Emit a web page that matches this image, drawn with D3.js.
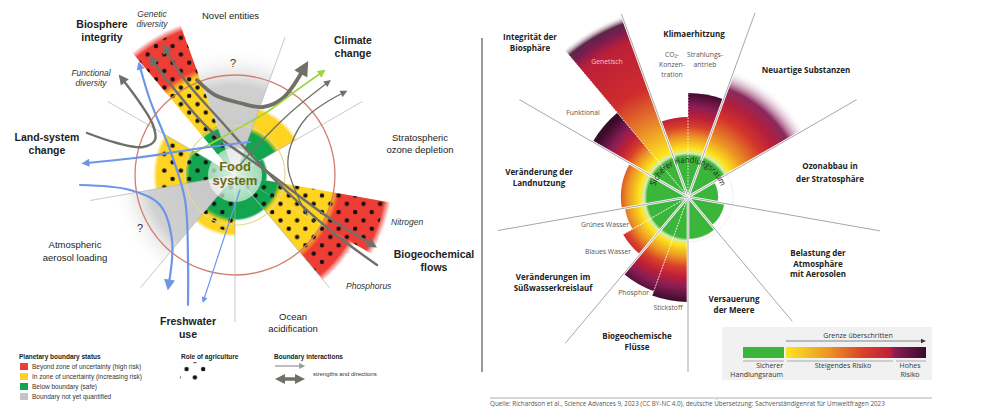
<!DOCTYPE html>
<html>
<head>
<meta charset="utf-8">
<script src="https://d3js.org/d3.v7.min.js"></script>
<style>
  body { margin: 0; background: #fff; }
  svg { display: block; }
</style>
</head>
<body>
<div id="chart"></div>
<script>
// ---------- data: left panel (food system and planetary boundaries) ----------
// angles in degrees clockwise from north, radii in multiples of the planetary boundary
const leftSectors = ["Novel entities", "Climate change", "Stratospheric ozone depletion", "Nitrogen", "Phosphorus",
  "Ocean acidification", "Freshwater use", "Atmospheric aerosol loading", "Land-system change", "Genetic diversity"];
const leftFrom = [-20, 20, 60, 100, 120, 140, 180, 220, 260, -40];
const leftTo = [20, 60, 100, 120, 140, 180, 220, 260, 300, -20];
const leftSafe = [0, 0.47, 0.33, 0.45, 0.45, 0.46, 0.45, 0, 0.48, 0.5];
const leftUncertain = [0, 0.72, 0, 1.02, 1.02, 0, 0.62, 0, 0.82, 1.08];
const leftHighRisk = [0, 0, 0, 1.58, 1.38, 0, 0, 0, 0, 1.6];
const leftUnknown = [1.28, 0, 0, 0, 0, 0, 0, 1.25, 0, 0];
const leftAgriculture = [0, 0, 0, 1, 1, 0, 1, 0, 1, 1];
const leftDividers = [-60, 20, 60, 140, 180, 220, 260];
const leftDividerLength = 1.47;

// interactions between boundaries (x, y in boundary units from the centre)
const flows = [
  { kind: "major", heads: "end", pts: [[-0.38, -0.95], [-0.2, -0.8], [0.05, -0.72], [0.28, -0.68], [0.48, -0.77], [0.68, -1.05]] },
  { kind: "gray", heads: "end", pts: [[-1.48, -0.42], [-1.18, -0.32], [-0.92, -0.28], [-0.8, -0.35], [-0.82, -0.5], [-0.95, -0.72], [-1.12, -0.95]] },
  { kind: "gray", heads: "both", pts: [[-0.82, -1.14], [-0.6, -0.85], [-0.25, -0.45], [0.3, -0.05], [0.9, 0.4], [1.36, 0.69]] },
  { kind: "gray", heads: "start", pts: [[-0.69, -1.25], [-0.5, -0.95], [-0.15, -0.55], [0.4, 0.05], [0.95, 0.55], [1.42, 0.9]] },
  { kind: "thin", heads: "end", pts: [[0.05, -0.1], [0.18, -0.25], [0.55, -0.62], [0.92, -0.92]] },
  { kind: "thin", heads: "end", pts: [[0.72, 0.4], [0.6, 0.15], [0.53, -0.08], [0.56, -0.3], [0.72, -0.58], [0.95, -0.75], [1.08, -0.82]] },
  { kind: "green", heads: "end", pts: [[-0.45, -0.2], [-0.05, -0.42], [0.35, -0.65], [0.62, -0.85], [0.86, -1.02]] },
  { kind: "blue", heads: "end", pts: [[0.15, -0.33], [-0.4, -0.26], [-1.0, -0.17], [-1.48, -0.12]] },
  { kind: "blue", heads: "end", pts: [[-0.47, 1.3], [-0.47, 0.85], [-0.5, 0.25], [-0.65, -0.25], [-0.85, -0.75], [-0.95, -1.08]] },
  { kind: "blueBig", heads: "end", pts: [[-1.55, 0.1], [-1.05, 0.15], [-0.75, 0.3], [-0.63, 0.65], [-0.66, 1.08]] },
  { kind: "blueThin", heads: "end", pts: [[0.05, 0.15], [-0.15, 0.75], [-0.31, 1.24]] }
];

// ---------- data: right panel (Richardson et al. 2023, German labels) ----------
const rightSectors = ["Genetisch", "Funktional", "CO₂-Konzentration", "Strahlungsantrieb", "Neuartige Substanzen",
  "Ozonabbau", "Aerosole", "Versauerung", "Stickstoff", "Phosphor", "Blaues Wasser", "Grünes Wasser", "Landnutzung"];
const rightFrom = [-40, -60, -20, 0, 20, 60, 100, 140, 180, 200, 220, 240, 260];
const rightTo = [-20, -40, 0, 20, 60, 100, 140, 180, 200, 220, 240, 260, 300];
const rightValue = [4.5, 2.56, 1.86, 2.42, 3.14, 0.7, 0.86, 0.98, 2.44, 2.33, 1.74, 1.49, 1.56];
const rightRamp = ["genetic", "risk", "risk", "risk", "novel", "risk", "risk", "risk", "risk", "risk", "risk", "risk", "risk"];
const rightMainLines = [-60, -20, 20, 60, 100, 140, 180, 220, 260];
const rightMainLength = [4.53, 4.53, 4.56, 4.53, 4.53, 3.77, 4.07, 4.44, 4.49];
const rightSubLines = [-40, 0, 200, 240];

// colour ramps: radius (boundary units) -> colour
const ramps = {
  risk: {
    stops: [0, 0.95, 1.02, 1.12, 1.4, 1.63, 1.86, 2.1, 2.45],
    colors: ["#3cb63a", "#3cb63a", "#dcefae", "#fde51d", "#ec9624", "#d9402b", "#bd1f37", "#8b1d55", "#3a0b2b"],
    opacity: [1, 1, 1, 1, 1, 1, 1, 1, 1]
  },
  genetic: {
    stops: [0, 0.95, 1.02, 1.12, 1.9, 2.7, 3.85, 4.12, 4.3, 4.5],
    colors: ["#3cb63a", "#3cb63a", "#dcefae", "#fde51d", "#e8842a", "#cf2c2e", "#bb1f38", "#7d1c50", "#4a0f35", "#ffffff"],
    opacity: [1, 1, 1, 1, 1, 1, 1, 1, 0.9, 0]
  },
  novel: {
    stops: [0, 0.95, 1.02, 1.12, 1.45, 1.98, 2.33, 2.67, 3.14],
    colors: ["#3cb63a", "#3cb63a", "#dcefae", "#fde51d", "#ec9624", "#d4342c", "#b41f3b", "#851d55", "#ffffff"],
    opacity: [1, 1, 1, 1, 1, 1, 1, 0.95, 0]
  }
};

const fontL = "'Liberation Sans', Arial, sans-serif";
const fontR = "'Open Sans', 'Noto Sans', sans-serif";
const rad = d => d * Math.PI / 180;

const svg = d3.select("#chart").append("svg").attr("width", 1000).attr("height", 409);
const defs = svg.append("defs");

// dot pattern = role of agriculture
const dots = defs.append("pattern").attr("id", "agri")
  .attr("patternUnits", "userSpaceOnUse").attr("width", 16.6).attr("height", 16.6);
dots.append("circle").attr("cx", 4).attr("cy", 4).attr("r", 2.2).attr("fill", "#111");
dots.append("circle").attr("cx", 12.3).attr("cy", 12.3).attr("r", 2.2).attr("fill", "#111");

// arrow heads
function marker(id, color, w, h) {
  defs.append("marker").attr("id", id)
    .attr("viewBox", "0 0 10 10").attr("refX", 3).attr("refY", 5)
    .attr("markerUnits", "userSpaceOnUse")
    .attr("markerWidth", w).attr("markerHeight", h)
    .attr("orient", "auto-start-reverse")
    .append("path").attr("d", "M0,0L10,5L0,10Z").attr("fill", color);
}
const arrowStyle = {
  major: { color: "#707068", width: 3.8, w: 16, h: 15 },
  gray: { color: "#707068", width: 2.4, w: 11, h: 10 },
  thin: { color: "#707068", width: 1.3, w: 8, h: 7 },
  green: { color: "#9ed43c", width: 1.6, w: 9, h: 8 },
  blue: { color: "#6f96e6", width: 2.2, w: 10, h: 8 },
  blueBig: { color: "#6f96e6", width: 2.2, w: 12, h: 11 },
  blueThin: { color: "#6f96e6", width: 1.2, w: 8, h: 6 }
};
Object.entries(arrowStyle).forEach(([k, s]) => marker("h-" + k, s.color, s.w, s.h));
marker("h-legend", "#9a9a9a", 7, 6);
marker("h-legendBig", "#707068", 10, 10);

// =====================================================================
// LEFT PANEL
// =====================================================================
const LC = { x: 235, y: 175 };
const lr = d3.scaleLinear().domain([0, 1]).range([0, 100]);
const lx = d3.scaleLinear().domain([0, 1]).range([LC.x, LC.x + 100]);
const ly = d3.scaleLinear().domain([0, 1]).range([LC.y, LC.y + 100]);
const left = svg.append("g");
const lg = left.append("g").attr("transform", `translate(${LC.x},${LC.y})`);

const G = "#12a54e", Y = "#fed321", R = "#ee3d34";

function leftStops(i) {
  if (leftUnknown[i]) {
    const u = leftUnknown[i];
    return [[0, "#c4c4c4", 1], [u * 0.7, "#d0d0d0", 1], [u, "#ffffff", 0]];
  }
  const g = leftSafe[i], y = leftUncertain[i], h = leftHighRisk[i];
  const s = [[0, G, 1], [g - 0.025, G, 1]];
  if (y) {
    s.push([g + 0.025, Y, 1]);
    if (h) s.push([y - 0.04, Y, 1], [y + 0.04, R, 1], [h - 0.07, R, 1], [h, R, 0]);
    else s.push([y - 0.04, Y, 1], [y, Y, 0]);
  } else {
    s.push([g, G, 0]);
  }
  return s;
}

leftSectors.forEach((name, i) => {
  const stops = leftStops(i);
  const outer = stops[stops.length - 1][0];
  const grad = defs.append("radialGradient").attr("id", "lgrad" + i)
    .attr("gradientUnits", "userSpaceOnUse").attr("cx", 0).attr("cy", 0).attr("r", lr(outer));
  stops.forEach(s => grad.append("stop").attr("offset", s[0] / outer)
    .attr("stop-color", s[1]).attr("stop-opacity", s[2]));
  const arc = d3.arc().innerRadius(0).outerRadius(lr(outer))
    .startAngle(rad(leftFrom[i])).endAngle(rad(leftTo[i]));
  lg.append("path").attr("d", arc()).attr("fill", `url(#lgrad${i})`);
  if (leftAgriculture[i]) {
    const dotArc = d3.arc().innerRadius(0).outerRadius(lr(outer - 0.06))
      .startAngle(rad(leftFrom[i])).endAngle(rad(leftTo[i]));
    lg.append("path").attr("d", dotArc()).attr("fill", "url(#agri)");
  }
});

// boundary circles
lg.append("circle").attr("r", lr(0.5)).attr("fill", "none").attr("stroke", "#e2dc8c").attr("stroke-width", 1.2);
lg.append("circle").attr("r", lr(1)).attr("fill", "none").attr("stroke", "#d27e6e").attr("stroke-width", 1.3);

// sector dividers
leftDividers.forEach(a => {
  lg.append("line")
    .attr("x1", 0).attr("y1", 0)
    .attr("x2", lr(leftDividerLength) * Math.sin(rad(a)))
    .attr("y2", -lr(leftDividerLength) * Math.cos(rad(a)))
    .attr("stroke", "#a9b3bd").attr("stroke-width", 0.7);
});

// food system hub
const hub = defs.append("radialGradient").attr("id", "hub");
hub.append("stop").attr("offset", 0).attr("stop-color", "#fff").attr("stop-opacity", 0.85);
hub.append("stop").attr("offset", 1).attr("stop-color", "#fff").attr("stop-opacity", 0.6);
lg.append("circle").attr("r", 27).attr("fill", "url(#hub)");
lg.append("text").attr("y", -4).attr("text-anchor", "middle").attr("font-family", fontL)
  .attr("font-weight", "bold").attr("font-size", 13).attr("fill", "#6e6a14").text("Food");
lg.append("text").attr("y", 10).attr("text-anchor", "middle").attr("font-family", fontL)
  .attr("font-weight", "bold").attr("font-size", 13).attr("fill", "#6e6a14").text("system");

// interaction arrows
const flowLine = d3.line().x(d => lx(d[0])).y(d => ly(d[1])).curve(d3.curveCatmullRom.alpha(0.5));
flows.forEach(f => {
  const s = arrowStyle[f.kind];
  const p = left.append("path").attr("d", flowLine(f.pts)).attr("fill", "none")
    .attr("stroke", s.color).attr("stroke-width", s.width).attr("stroke-linecap", "round");
  if (f.heads === "end" || f.heads === "both") p.attr("marker-end", `url(#h-${f.kind})`);
  if (f.heads === "start" || f.heads === "both") p.attr("marker-start", `url(#h-${f.kind})`);
});

// labels
function texts(g, x, y, lines, size, opts = {}) {
  lines.forEach((t, k) => {
    g.append("text").attr("x", x).attr("y", y + k * (opts.lh || size * 1.2))
      .attr("text-anchor", opts.anchor || "middle")
      .attr("font-family", opts.font || fontL)
      .attr("font-size", size)
      .attr("font-weight", opts.weight || "normal")
      .attr("font-style", opts.italic ? "italic" : "normal")
      .attr("fill", opts.fill || "#222")
      .text(t);
  });
}
const B = { weight: "bold", lh: 12.5 };
texts(left, 102, 28, ["Biosphere", "integrity"], 10.5, B);
texts(left, 152, 17, ["Genetic", "diversity"], 8.5, { italic: true, lh: 10, fill: "#333" });
texts(left, 202, 19, ["Novel entities"], 9.5, { anchor: "start", fill: "#222" });
texts(left, 91, 76, ["Functional", "diversity"], 8.5, { italic: true, lh: 10, fill: "#333" });
texts(left, 47, 141, ["Land-system", "change"], 10.5, B);
texts(left, 353, 44, ["Climate", "change"], 10.5, B);
texts(left, 420, 141, ["Stratospheric", "ozone depletion"], 9.5, { lh: 12 });
texts(left, 391, 225, ["Nitrogen"], 8.5, { anchor: "start", italic: true, fill: "#333" });
texts(left, 434, 258, ["Biogeochemical", "flows"], 10.5, B);
texts(left, 346, 289, ["Phosphorus"], 8.5, { anchor: "start", italic: true, fill: "#333" });
texts(left, 293, 320, ["Ocean", "acidification"], 9.5, { lh: 12 });
texts(left, 188, 325, ["Freshwater", "use"], 10.5, B);
texts(left, 75, 248, ["Atmospheric", "aerosol loading"], 9.5, { lh: 12.5 });
texts(left, 233, 67, ["?"], 11, { fill: "#333" });
texts(left, 140, 232, ["?"], 11, { fill: "#333" });

// legend (left)
const statusLabels = ["Beyond zone of uncertainty (high risk)", "In zone of uncertainty (increasing risk)",
  "Below boundary (safe)", "Boundary not yet quantified"];
const statusColors = [R, Y, G, "#c4c4c4"];
texts(left, 19, 359, ["Planetary boundary status"], 6.5, { anchor: "start", weight: "bold" });
statusLabels.forEach((t, k) => {
  left.append("rect").attr("x", 20).attr("y", 363 + k * 10).attr("width", 8).attr("height", 7).attr("fill", statusColors[k]);
  texts(left, 32, 369 + k * 10, [t], 6.5, { anchor: "start", fill: "#333" });
});
texts(left, 181, 359, ["Role of agriculture"], 6.5, { anchor: "start", weight: "bold" });
left.append("rect").attr("x", 180).attr("y", 362).attr("width", 26).attr("height", 18).attr("fill", "url(#agri)");
texts(left, 274, 359, ["Boundary interactions"], 6.5, { anchor: "start", weight: "bold" });
left.append("line").attr("x1", 275).attr("y1", 366).attr("x2", 301).attr("y2", 366)
  .attr("stroke", "#9a9a9a").attr("stroke-width", 1.3).attr("marker-end", "url(#h-legend)");
left.append("line").attr("x1", 282).attr("y1", 379).attr("x2", 298).attr("y2", 379)
  .attr("stroke", "#707068").attr("stroke-width", 3.5)
  .attr("marker-end", "url(#h-legendBig)").attr("marker-start", "url(#h-legendBig)");
texts(left, 313, 376, ["strengths and directions"], 6, { anchor: "start", fill: "#333" });

// =====================================================================
// RIGHT PANEL
// =====================================================================
const RC = { x: 688, y: 197 };
const rr = d3.scaleLinear().domain([0, 1]).range([0, 43]);
const right = svg.append("g");
const rg = right.append("g").attr("transform", `translate(${RC.x},${RC.y})`);

Object.entries(ramps).forEach(([key, ramp]) => {
  const maxR = ramp.stops[ramp.stops.length - 1];
  const grad = defs.append("radialGradient").attr("id", "ramp-" + key)
    .attr("gradientUnits", "userSpaceOnUse").attr("cx", 0).attr("cy", 0).attr("r", rr(maxR));
  ramp.stops.forEach((s, k) => grad.append("stop").attr("offset", s / maxR)
    .attr("stop-color", ramp.colors[k]).attr("stop-opacity", ramp.opacity[k]));
});

rightSectors.forEach((name, i) => {
  const arc = d3.arc().innerRadius(0).outerRadius(rr(rightValue[i]))
    .startAngle(rad(rightFrom[i])).endAngle(rad(rightTo[i]));
  rg.append("path").attr("d", arc()).attr("fill", `url(#ramp-${rightRamp[i]})`);
});

// sub-dividers (dotted white)
rightSubLines.forEach(a => {
  const i = rightFrom.indexOf(a);
  const len = Math.max(rightValue[i], rightValue[rightTo.indexOf(a)]);
  rg.append("line").attr("x1", 0).attr("y1", 0)
    .attr("x2", rr(len) * Math.sin(rad(a))).attr("y2", -rr(len) * Math.cos(rad(a)))
    .attr("stroke", "#fff").attr("stroke-width", 0.9).attr("stroke-dasharray", "1.5 1.5");
});

// main dividers: white gap with a thin grey rule
rightMainLines.forEach((a, k) => {
  const x2 = rr(rightMainLength[k]) * Math.sin(rad(a)), y2 = -rr(rightMainLength[k]) * Math.cos(rad(a));
  rg.append("line").attr("x1", 0).attr("y1", 0).attr("x2", x2).attr("y2", y2)
    .attr("stroke", "#fff").attr("stroke-width", 2.6);
  rg.append("line").attr("x1", 0).attr("y1", 0).attr("x2", x2).attr("y2", y2)
    .attr("stroke", "#6a6a6a").attr("stroke-width", 0.6);
});

// safe operating space boundary
rg.append("circle").attr("r", rr(1.05)).attr("fill", "none")
  .attr("stroke", "#cfcfcf").attr("stroke-width", 0.8).attr("stroke-dasharray", "1 1.5");
defs.append("path").attr("id", "safeArc")
  .attr("d", `M${-rr(0.8)},0 A${rr(0.8)},${rr(0.8)} 0 0 1 ${rr(0.8)},0`);
rg.append("text").attr("font-family", fontR).attr("font-size", 8.4).attr("fill", "#1f2a1a")
  .append("textPath").attr("href", "#safeArc").attr("startOffset", "50%").attr("text-anchor", "middle")
  .attr("textLength", 86).attr("lengthAdjust", "spacingAndGlyphs")
  .text("Sicherer Handlungsraum");

// labels (right)
const RB = { font: fontR, weight: 700, lh: 11, fill: "#222" };
const RS = { font: fontR, lh: 10, fill: "#555" };
texts(right, 530, 40, ["Integrität der", "Biosphäre"], 8, RB);
texts(right, 694, 37, ["Klimaerhitzung"], 8, RB);
texts(right, 672, 57, ["CO₂-", "Konzen-", "tration"], 6.8, RS);
texts(right, 705, 57, ["Strahlungs-", "antrieb"], 6.8, RS);
texts(right, 607, 64, ["Genetisch"], 6.8, { font: fontR, fill: "#f6c6c8" });
texts(right, 583, 115, ["Funktional"], 6.8, RS);
texts(right, 806, 73, ["Neuartige Substanzen"], 8, RB);
texts(right, 830, 169, ["Ozonabbau in", "der Stratosphäre"], 8, { ...RB, lh: 12.5 });
texts(right, 539, 175, ["Veränderung der", "Landnutzung"], 8, RB);
texts(right, 629, 227, ["Grünes Wasser"], 6.8, { ...RS, anchor: "end" });
texts(right, 631, 254, ["Blaues Wasser"], 6.8, { ...RS, anchor: "end" });
texts(right, 553, 280, ["Veränderungen im", "Süßwasserkreislauf"], 8, RB);
texts(right, 649, 295, ["Phosphor"], 6.8, { ...RS, anchor: "end" });
texts(right, 668, 310, ["Stickstoff"], 6.8, RS);
texts(right, 637, 339, ["Biogeochemische", "Flüsse"], 8, RB);
texts(right, 734, 302, ["Versauerung", "der Meere"], 8, RB);
texts(right, 818, 256, ["Belastung der", "Atmosphäre", "mit Aerosolen"], 8, { ...RB, lh: 10.7 });

// separator and footer
right.append("line").attr("x1", 482).attr("y1", 38).attr("x2", 482).attr("y2", 372)
  .attr("stroke", "#333").attr("stroke-width", 1);
right.append("line").attr("x1", 490).attr("y1", 398).attr("x2", 932).attr("y2", 398)
  .attr("stroke", "#999").attr("stroke-width", 0.8);
texts(right, 490, 406, ["Quelle: Richardson et al., Science Advances 9, 2023 (CC BY-NC 4.0), deutsche Übersetzung: Sachverständigenrat für Umweltfragen 2023"],
  6.3, { font: fontR, anchor: "start", fill: "#555" });

// legend (right)
const legendBar = defs.append("linearGradient").attr("id", "legendBar");
[[0, "#fde51d"], [0.3, "#ec9624"], [0.55, "#d9402b"], [0.75, "#bd1f37"], [0.77, "#8b1d55"], [1, "#3a0b2b"]]
  .forEach(s => legendBar.append("stop").attr("offset", s[0]).attr("stop-color", s[1]));
right.append("rect").attr("x", 722).attr("y", 327).attr("width", 210).attr("height", 53).attr("fill", "#f1f1f1");
right.append("rect").attr("x", 743).attr("y", 347).attr("width", 41).attr("height", 11).attr("fill", "#3cb63a");
right.append("rect").attr("x", 786).attr("y", 347).attr("width", 140).attr("height", 11).attr("fill", "url(#legendBar)");
[[743, 784], [787, 893], [896, 926]].forEach(s => right.append("line")
  .attr("x1", s[0]).attr("x2", s[1]).attr("y1", 361).attr("y2", 361).attr("stroke", "#9a9a9a").attr("stroke-width", 0.8));
right.append("line").attr("x1", 786).attr("x2", 922).attr("y1", 341).attr("y2", 341)
  .attr("stroke", "#555").attr("stroke-width", 0.7);
right.append("path").attr("d", "M921,338.8L926,341L921,343.2Z").attr("fill", "#333");
texts(right, 858, 338, ["Grenze überschritten"], 7, { font: fontR, fill: "#333" });
texts(right, 783, 368, ["Sicherer", "Handlungsraum"], 7, { font: fontR, anchor: "end", fill: "#333", lh: 9 });
texts(right, 843, 368, ["Steigendes Risiko"], 7, { font: fontR, fill: "#333" });
texts(right, 910, 368, ["Hohes", "Risiko"], 7, { font: fontR, fill: "#333", lh: 9 });
</script>
</body>
</html>
